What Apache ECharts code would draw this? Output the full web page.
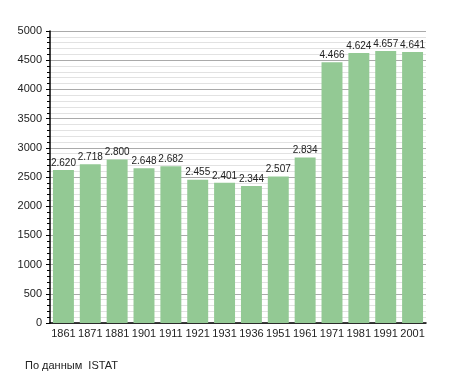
<!DOCTYPE html>
<html><head><meta charset="utf-8">
<script src="https://cdn.jsdelivr.net/npm/echarts@6/dist/echarts.min.js"></script>
<style>html,body{margin:0;padding:0;background:#fff}#c{width:455px;height:373px}</style>
</head><body><div id="c"></div>
<script>
const years = ['1861','1871','1881','1901','1911','1921','1931','1936','1951','1961','1971','1981','1991','2001'];
const population = [2620,2718,2800,2648,2682,2455,2401,2344,2507,2834,4466,4624,4657,4641];
const yTicks = [0,500,1000,1500,2000,2500,3000,3500,4000,4500,5000];
const sourceNote = 'По данным  ISTAT';

const chart = echarts.init(document.getElementById('c'), null, {renderer:'canvas'});
chart.setOption({
  animation:false,
  textStyle:{fontFamily:'Liberation Sans, Arial, sans-serif'},
  grid:{left:50,right:29,top:31,bottom:50},
  title:{text:sourceNote,left:20,top:355,textStyle:{fontSize:11,fontWeight:'normal',color:'#222',fontFamily:'Liberation Sans, Arial, sans-serif'}},
  xAxis:{type:'category',data:years,
    axisLine:{lineStyle:{color:'#000',width:1.5}},
    axisTick:{show:false},
    axisLabel:{color:'#222',fontSize:11,margin:5,interval:0}},
  yAxis:{type:'value',min:yTicks[0],max:yTicks[yTicks.length-1],interval:500,
    axisLine:{show:true,lineStyle:{color:'#000',width:1.5}},
    axisTick:{show:true,length:4,lineStyle:{color:'#000'}},
    minorTick:{show:true,splitNumber:5,length:3,lineStyle:{color:'#000'}},
    splitLine:{lineStyle:{color:'#aaa',width:1}},
    minorSplitLine:{show:true,lineStyle:{color:'#e2e2e2',width:1}},
    axisLabel:{color:'#222',fontSize:11,margin:8,formatter:v=>String(v)}},
  series:[{type:'bar',data:population,barCategoryGap:'22%',
    itemStyle:{color:'#93c994'},
    label:{show:true,position:'top',distance:2,color:'#222',fontSize:10,
      formatter:p=>{const v=p.value;return Math.floor(v/1000)+'.'+String(v%1000).padStart(3,'0');}}}]
});
</script></body></html>
